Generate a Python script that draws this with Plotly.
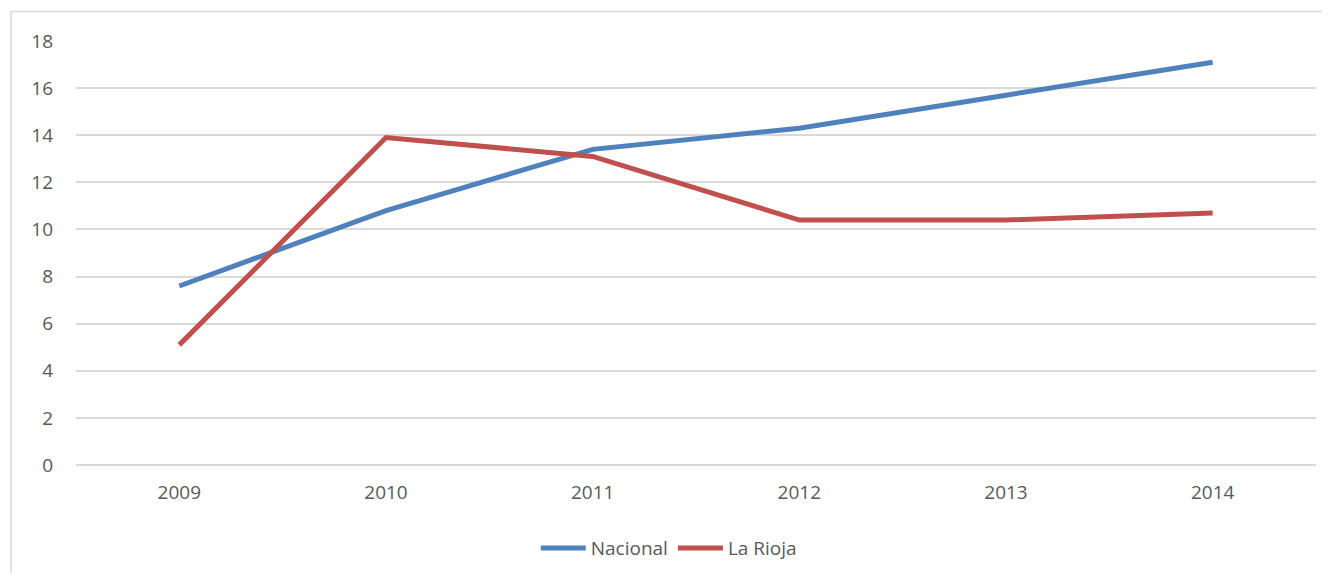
import plotly.graph_objects as go

anios = ["2009", "2010", "2011", "2012", "2013", "2014"]
nacional = [7.6, 10.8, 13.4, 14.3, 15.7, 17.1]
la_rioja = [5.1, 13.9, 13.1, 10.4, 10.4, 10.7]

fuente = dict(family="Open Sans, Liberation Sans, sans-serif", size=19, color="#595959")

fig = go.Figure()
fig.add_trace(go.Scatter(x=anios, y=nacional, mode="lines", name="Nacional",
                         line=dict(color="#4F81BD", width=5)))
fig.add_trace(go.Scatter(x=anios, y=la_rioja, mode="lines", name="La Rioja",
                         line=dict(color="#C0504D", width=5)))

# la página tiene 8px de margen en el body; tamaño ajustado para que no salgan barras de scroll
fig.update_layout(
    width=1314, height=565,
    margin=dict(l=68, r=6, t=33, b=108),
    paper_bgcolor="white", plot_bgcolor="white",
    font=fuente,
    legend=dict(orientation="h", x=0.478, xanchor="center", y=-0.196, yanchor="middle",
                font=fuente, traceorder="normal", itemwidth=45),
)
fig.update_xaxes(type="category", range=[-0.5, 5.5], showgrid=False, showline=False,
                 ticks="", ticklabelstandoff=14, tickfont=fuente)
fig.update_yaxes(range=[0, 18], dtick=2, showgrid=True, gridcolor="#D9D9D9", gridwidth=1.5,
                 zeroline=True, zerolinecolor="#D9D9D9", zerolinewidth=1.5,
                 ticks="", ticklabelstandoff=22, tickfont=fuente)

# marco del gráfico (recortado a la derecha y abajo)
fig.add_shape(type="line", xref="paper", yref="paper", x0=-0.0524, x1=-0.0524, y0=-0.3, y1=1.0696,
              line=dict(color="#D9D9D9", width=1.5))
fig.add_shape(type="line", xref="paper", yref="paper", x0=-0.0524, x1=1.02, y0=1.0696, y1=1.0696,
              line=dict(color="#D9D9D9", width=1.5))

fig.write_html("out.html")
